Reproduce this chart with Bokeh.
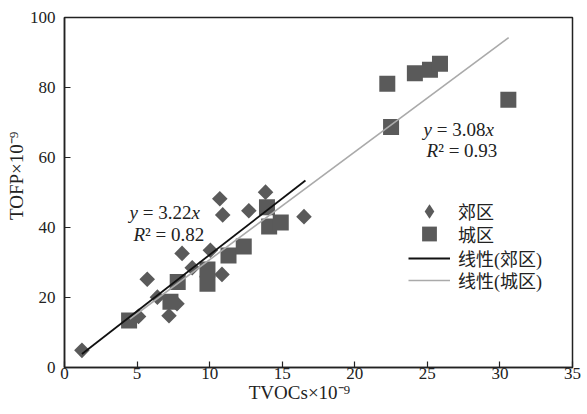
import math
from bokeh.plotting import figure
from bokeh.models import Range1d, FixedTicker, Label, Legend, LegendItem
from bokeh.embed import file_html
from bokeh.resources import INLINE

# ---- data ----
sub_x = [1.2, 5.1, 5.7, 6.4, 7.2, 7.75, 8.1, 8.8, 10.05, 10.85, 10.7, 10.9, 12.7, 13.85, 16.5]
sub_y = [4.9, 14.6, 25.2, 20.1, 14.8, 18.2, 32.6, 28.5, 33.5, 26.6, 48.2, 43.6, 44.8, 50.1, 43.1]

urb_x = [4.45, 7.3, 7.8, 9.85, 9.85, 11.3, 12.35, 13.95, 14.1, 14.9, 22.24, 22.5, 24.14, 25.18, 25.87, 30.58]
urb_y = [13.4, 18.8, 24.4, 23.9, 28.0, 32.0, 34.6, 45.8, 40.3, 41.4, 81.1, 68.7, 84.1, 85.1, 86.8, 76.5]

sub_slope = 3.22
urb_slope = 3.08
sub_r2 = 0.82
urb_r2 = 0.93
sub_fit_x = [1.2, 16.6]
urb_fit_x = [4.5, 30.6]

x_ticks = [0, 5, 10, 15, 20, 25, 30, 35]
y_ticks = [0, 20, 40, 60, 80, 100]
legend_labels = ["郊区", "城区", "线性(郊区)", "线性(城区)"]
x_title = "TVOCs×10⁻⁹"
y_title = "TOFP×10⁻⁹"

SERIF = "Liberation Serif, Noto Sans CJK SC"
MARK = "#5a5a5a"
NB = "\u00a0"

p = figure(frame_width=508, frame_height=350, output_backend="svg", toolbar_location=None,
           x_range=Range1d(0, 35), y_range=Range1d(0, 100),
           min_border_left=64, min_border_right=15, min_border_top=17, min_border_bottom=47)
p.background_fill_color = "white"
p.border_fill_color = "white"
p.grid.visible = False
p.outline_line_color = "#222222"
p.outline_line_width = 1.5

for ax in (p.xaxis[0], p.yaxis[0]):
    ax.axis_line_color = "#222222"
    ax.axis_line_width = 1.5
    ax.major_tick_line_color = "#222222"
    ax.major_tick_line_width = 1.2
    ax.major_tick_in = 6
    ax.major_tick_out = 0
    ax.minor_tick_line_color = None
    ax.major_label_text_font = SERIF
    ax.major_label_text_font_size = "17px"
    ax.major_label_text_color = "#222222"
    ax.axis_label_text_font = SERIF
    ax.axis_label_text_font_size = "19px"
    ax.axis_label_text_font_style = "normal"
    ax.axis_label_text_color = "#222222"
    ax.axis_label_standoff = 0

p.xaxis[0].ticker = FixedTicker(ticks=x_ticks)
p.yaxis[0].ticker = FixedTicker(ticks=y_ticks)
p.xaxis[0].major_label_standoff = 0
p.yaxis[0].major_label_standoff = 9
# the reference titles sit a little off-centre; pad with no-break spaces
p.xaxis[0].axis_label = x_title + NB * 8
p.yaxis[0].axis_label = NB * 7 + y_title

r_sub = p.scatter(sub_x, sub_y, marker="square", angle=math.pi / 4, size=11,
                  fill_color=MARK, line_color=None)
r_urb = p.scatter(urb_x, urb_y, marker="square", size=16,
                  fill_color=MARK, line_color=None)

r_lu = p.line(urb_fit_x, [urb_slope * v for v in urb_fit_x], line_color="#aaaaaa", line_width=1.6)
r_ls = p.line(sub_fit_x, [sub_slope * v for v in sub_fit_x], line_color="#111111", line_width=1.8)

# hidden twin of the suburban series, used only for its diamond legend key
r_sub_key = p.scatter(sub_x, sub_y, marker="diamond", fill_color=MARK, line_color=None,
                      visible=False)

# one single-item legend per row, so that each key can have its own size
rows = [
    (legend_labels[0], r_sub_key, 36, 138),
    (legend_labels[1], r_urb, 37, 115),
    (legend_labels[2], r_ls, 30, 94),
    (legend_labels[3], r_lu, 30, 72),
]
for label, rend, gh, ly in rows:
    lg = Legend(items=[LegendItem(label=label, renderers=[rend])], location=(344, ly))
    lg.border_line_color = None
    lg.background_fill_alpha = 0
    lg.padding = 0
    lg.margin = 0
    lg.spacing = 0
    lg.glyph_width = 42
    lg.glyph_height = gh
    lg.label_height = gh
    lg.label_standoff = 8
    lg.label_text_font = SERIF
    lg.label_text_font_size = "18px"
    lg.label_text_color = "#222222"
    p.add_layout(lg)


def eq_labels(x0, y_line1, y_line2, slope, r2, x2_shift=0):
    fs = "19px"
    pieces = [
        (x0, y_line1, 0, "y", "italic"),
        (x0, y_line1, 13.2, f"= {slope:.2f}", "normal"),
        (x0, y_line1, 62.0, "x", "italic"),
        (x0, y_line2, x2_shift, "R", "italic"),
        (x0, y_line2, x2_shift + 11.6, f"² = {r2:.2f}", "normal"),
    ]
    for x, y, off, txt, style in pieces:
        p.add_layout(Label(x=x, y=y, x_offset=off, text=txt, text_font=SERIF,
                           text_font_size=fs, text_font_style=style,
                           text_color="#222222", text_baseline="alphabetic",
                           text_align="left"))


eq_labels(4.48, 44.3, 38.1, sub_slope, sub_r2, x2_shift=4)
eq_labels(24.74, 68.1, 62.1, urb_slope, urb_r2, x2_shift=3)

open("out.html", "w").write(file_html(p, INLINE))
